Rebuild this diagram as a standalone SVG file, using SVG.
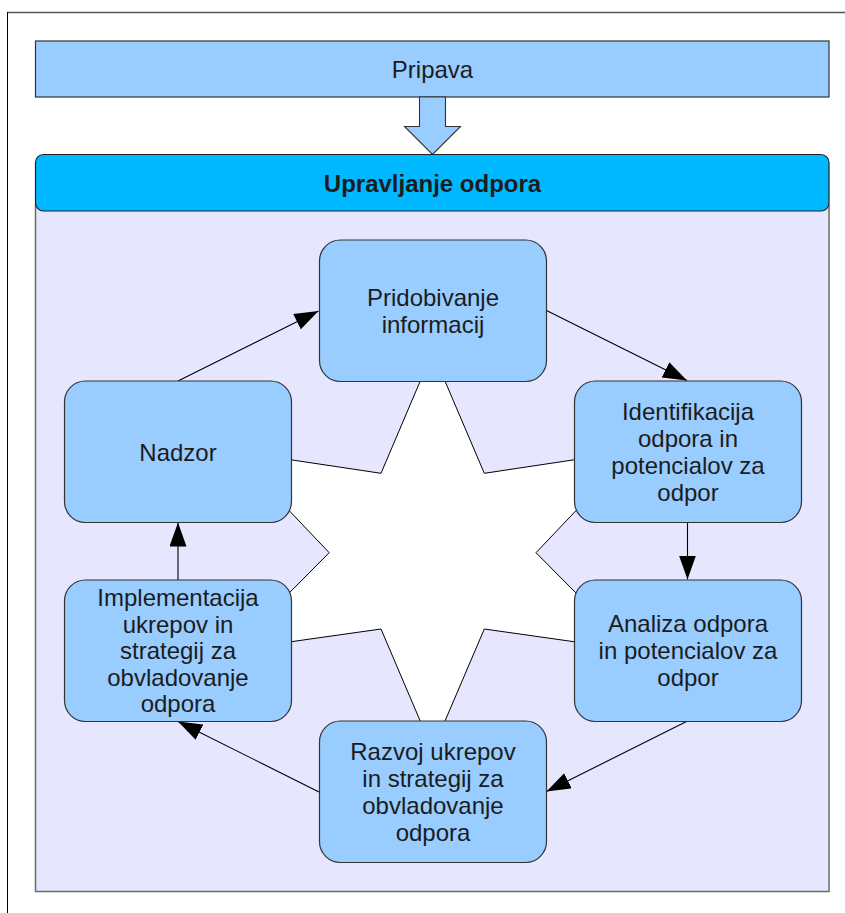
<svg xmlns="http://www.w3.org/2000/svg" width="845" height="913" viewBox="0 0 845 913">
  <style>
    .txt { font-family: "Liberation Sans", Arial, sans-serif; font-size: 24px; fill: #1c1c1c; text-anchor: middle; }
    .bold { font-weight: bold; font-size: 24px; }
    .node { fill: #99ccff; stroke: #333333; stroke-width: 1.2; }
    .conn { stroke: #000000; stroke-width: 1.1; fill: none; marker-end: url(#head); }
  </style>
  <defs>
    <marker id="head" viewBox="0 0 24 17" refX="24" refY="8.5" markerWidth="24" markerHeight="17" markerUnits="userSpaceOnUse" orient="auto">
      <path d="M0,0 L24,8.5 L0,17 Z" fill="#000000"/>
    </marker>
  </defs>

  <!-- page frame -->
  <g id="frame">
    <line x1="7" y1="12.5" x2="845" y2="12.5" stroke="#555555" stroke-width="1.5"/>
    <line x1="7.5" y1="12" x2="7.5" y2="913" stroke="#000000" stroke-width="1"/>
  </g>

  <!-- preparation bar -->
  <g id="pripava">
    <rect x="35.5" y="41" width="793.5" height="56" fill="#99ccff" stroke="#333333" stroke-width="1.2"/>
    <text class="txt" x="432.5" y="78">Pripava</text>
  </g>

  <!-- block arrow into the management container -->
  <g id="pripava-arrow">
    <path d="M419.5,97 L445.5,97 L445.5,126.5 L460.5,126.5 L432.5,154.5 L404.5,126.5 L419.5,126.5 Z" fill="#99ccff" stroke="#333333" stroke-width="1.1"/>
  </g>

  <!-- management container -->
  <g id="upravljanje">
    <rect x="35.5" y="205" width="793.5" height="686.5" fill="#e6e6ff" stroke="#6a6a6a" stroke-width="1.5"/>
    <rect x="35.5" y="154.5" width="793.5" height="56.5" rx="8" ry="8" fill="#00b8ff" stroke="#222222" stroke-width="1.2"/>
    <text class="txt bold" x="432.5" y="191.5">Upravljanje odpora</text>
  </g>

  <!-- six-pointed star behind the cycle -->
  <g id="star">
    <polygon points="432.6,352 484.3,473.3 632.6,451 536,552.7 632.5,650 484.3,629 432.6,750 381,629 232.5,650 329.2,552.7 232.5,451 381,473.3" fill="#ffffff" stroke="#000000" stroke-width="1"/>
  </g>

  <!-- cycle connectors -->
  <g id="connectors">
    <line class="conn" x1="178" y1="381" x2="318.5" y2="311"/>
    <line class="conn" x1="546.5" y1="310.5" x2="687" y2="380.5"/>
    <line class="conn" x1="687.5" y1="522" x2="687.5" y2="579.5"/>
    <line class="conn" x1="687.5" y1="721" x2="546.5" y2="791.5"/>
    <line class="conn" x1="319" y1="792" x2="178" y2="721.5"/>
    <line class="conn" x1="178" y1="580" x2="178" y2="522.5"/>
  </g>

  <g id="pridobivanje">
    <rect class="node" x="319.5" y="240" width="227" height="141.5" rx="21"/>
    <text class="txt" x="433" y="306">Pridobivanje</text>
    <text class="txt" x="433" y="333">informacij</text>
  </g>

  <g id="identifikacija">
    <rect class="node" x="574.5" y="381" width="227" height="141.5" rx="21"/>
    <text class="txt" x="688" y="420">Identifikacija</text>
    <text class="txt" x="688" y="447">odpora in</text>
    <text class="txt" x="688" y="474">potencialov za</text>
    <text class="txt" x="688" y="501">odpor</text>
  </g>

  <g id="analiza">
    <rect class="node" x="574.5" y="580" width="227" height="141.5" rx="21"/>
    <text class="txt" x="688" y="632">Analiza odpora</text>
    <text class="txt" x="688" y="659">in potencialov za</text>
    <text class="txt" x="688" y="686">odpor</text>
  </g>

  <g id="razvoj">
    <rect class="node" x="319.5" y="721" width="227" height="141.5" rx="21"/>
    <text class="txt" x="433" y="760">Razvoj ukrepov</text>
    <text class="txt" x="433" y="787">in strategij za</text>
    <text class="txt" x="433" y="814">obvladovanje</text>
    <text class="txt" x="433" y="841">odpora</text>
  </g>

  <g id="implementacija">
    <rect class="node" x="64.5" y="580" width="227" height="141.5" rx="21"/>
    <text class="txt" x="178" y="606">Implementacija</text>
    <text class="txt" x="178" y="633">ukrepov in</text>
    <text class="txt" x="178" y="659">strategij za</text>
    <text class="txt" x="178" y="686">obvladovanje</text>
    <text class="txt" x="178" y="712">odpora</text>
  </g>

  <g id="nadzor">
    <rect class="node" x="64.5" y="381" width="227" height="141.5" rx="21"/>
    <text class="txt" x="178" y="461">Nadzor</text>
  </g>
</svg>
